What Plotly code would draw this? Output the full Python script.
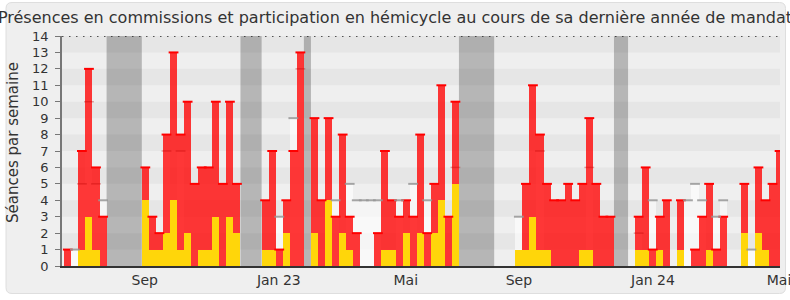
import plotly.graph_objects as go

N = None
weeks = list(range(102))

# séances en commission / présences (rouge)
presence = [1, 0, 7, 12, 6, 3, 0, 0, 0, 0, 0,
            6, 3, 2, 8, 13, 8, 10, 5, 6, 6, 10, 5, 10, 5,
            0, 0, 0,
            4, 7, 1, 4, 7, 13,
            0,
            9, 4, 9, 3, 8, 3, 2, 0, 0, 2, 7, 4, 3, 4, 3, 8, 2, 5, 11, 3, 10,
            0, 0, 0, 0, 0, 0, 0, 0,
            1, 5, 11, 8, 5, 4, 4, 5, 4, 5, 9, 5, 3, 3,
            0, 0, 0,
            3, 6, 1, 3, 4, 0, 4, 0, 1, 3, 5, 1, 3, 0, 0, 5, 0, 6, 4, 5, 7]

# participation en hémicycle (jaune)
hemicycle = [0, 0, 1, 3, 1, 0, 0, 0, 0, 0, 0,
             4, 1, 1, 2, 4, 1, 2, 0, 1, 1, 3, 0, 3, 2,
             0, 0, 0,
             1, 1, 0, 2, 0, 0,
             0,
             2, 0, 4, 0, 2, 1, 0, 0, 0, 0, 1, 1, 0, 2, 0, 2, 0, 2, 4, 0, 5,
             0, 0, 0, 0, 0, 0, 0, 0,
             1, 1, 3, 1, 1, 0, 0, 0, 0, 1, 1, 0, 0, 0,
             0, 0, 0,
             1, 1, 0, 1, 0, 0, 1, 0, 0, 0, 1, 0, 0, 0, 0, 2, 0, 2, 1, 0, 0]

# médiane des députés (gris clair)
mediane = [N, 1, 5, 10, 5, 4, N, N, N, N, N, N, N, N, 7, N, 7,
           N, N, N, N, N, N, N, N, N, N, N, N, N,
           3, N, 9, 12, N, N, N, N, 4, N, 5, 4, 4, 4, 4, N, N, 4, N, 5, N, 4,
           N, N, N, 6, N, N, N, N, N, N, N, N,
           3, N, N, 7, N, N, N, N, N, N, 6, N, N, N, N, N, N,
           2, N, 4, N, N, N, N, 4, 5, 4, N, 3, 4, N, N, N, 1, N, N, N, N]

# vacances parlementaires (semaines de début et de fin)
vacances = [(6, 10), (25, 27), (34, 34), (56, 60), (78, 79)]

tick_pos = [10.91, 29.94, 47.96, 64.0, 83.04, 100.92]
tick_txt = ["Sep", "Jan 23", "Mai", "Sep", "Jan 24", "Mai"]

FONT = "DejaVu Sans"
fig = go.Figure()

fig.add_bar(x=weeks, y=[m if m is not None else 0 for m in mediane], width=1,
            marker=dict(color="rgba(255,255,255,0.6)", line=dict(width=0)), hoverinfo="skip")
fig.add_bar(x=weeks, y=presence, width=1,
            marker=dict(color="rgba(255,0,0,0.78)", line=dict(width=0)))
fig.add_bar(x=weeks, y=hemicycle, width=1,
            marker=dict(color="#ffd60a", line=dict(width=0)))

red_top = [p if (p > 0 and p > h) else None for p, h in zip(presence, hemicycle)]
fig.add_scatter(x=weeks, y=red_top, mode="markers", hoverinfo="skip",
                marker=dict(symbol="line-ew", size=7, line=dict(color="#ff0000", width=2)))
# médiane visible au-dessus des barres rouges
med_out = [m if (m is not None and m > p) else None for m, p in zip(mediane, presence)]
fig.add_scatter(x=weeks, y=med_out, mode="markers", hoverinfo="skip",
                marker=dict(symbol="line-ew", size=7, line=dict(color="rgba(150,150,150,0.85)", width=2)))
# médiane à l'intérieur des barres rouges
med_in = [m if (m is not None and h < m < p) else None for m, p, h in zip(mediane, presence, hemicycle)]
fig.add_scatter(x=weeks, y=med_in, mode="markers", hoverinfo="skip",
                marker=dict(symbol="line-ew", size=7, line=dict(color="rgba(190,0,0,0.35)", width=1.5)))

shapes = []
# panneau arrondi
L, R, T, B = 62, 780, 36, 266
W, H = R - L, B - T
def px(x):
    return (x - L) / W
def py(y):
    return (B - y) / H
pl, pr, pt, pb, r = 6, 785.5, 2.5, 293.5, 6
path = (f"M {px(pl + r)},{py(pt)} L {px(pr - r)},{py(pt)} Q {px(pr)},{py(pt)} {px(pr)},{py(pt + r)} "
        f"L {px(pr)},{py(pb - r)} Q {px(pr)},{py(pb)} {px(pr - r)},{py(pb)} "
        f"L {px(pl + r)},{py(pb)} Q {px(pl)},{py(pb)} {px(pl)},{py(pb - r)} "
        f"L {px(pl)},{py(pt + r)} Q {px(pl)},{py(pt)} {px(pl + r)},{py(pt)} Z")
shapes.append(dict(type="path", path=path, xref="paper", yref="paper", layer="below",
                   fillcolor="#efefef", line=dict(color="#dedede", width=1)))
# bandes horizontales
for k in range(7):
    shapes.append(dict(type="rect", xref="paper", yref="y", x0=0, x1=1, y0=2 * k + 1, y1=2 * k + 2,
                       fillcolor="#e6e6e6", line=dict(width=0), layer="below"))
# vacances
for a, b in vacances:
    shapes.append(dict(type="rect", xref="x", yref="y", x0=a - 0.5, x1=b + 0.5, y0=0, y1=14,
                       fillcolor="rgba(50,50,50,0.3)", line=dict(width=0), layer="below"))
# ligne pointillée en haut
shapes.append(dict(type="line", xref="paper", yref="y", x0=0, x1=1, y0=14, y1=14,
                   line=dict(color="#222", width=1.5, dash="1.5px,5.5px"), layer="above"))

fig.update_layout(
    width=790, height=300,
    margin=dict(l=L, r=790 - R, t=T, b=300 - B, autoexpand=False),
    paper_bgcolor="white", plot_bgcolor="#fafafa",
    barmode="overlay", bargap=0, showlegend=False,
    font=dict(family=FONT, color="#333"),
    shapes=shapes,
    title=dict(text="Présences en commissions et participation en hémicycle au cours de sa dernière année de mandat",
               x=0.5, xref="container", xanchor="center", y=1 - 17 / 300, yanchor="middle",
               font=dict(family=FONT, size=16, color="#333")),
    xaxis=dict(range=[-0.826, 101.06], tickvals=tick_pos, ticktext=tick_txt, showgrid=False,
               zeroline=False, showline=True, linecolor="#333", linewidth=2, ticks="",
               ticklabeloverflow="allow", automargin=False,
               tickfont=dict(size=14, color="#333")),
    yaxis=dict(range=[0, 14], tickvals=list(range(15)), showgrid=False, zeroline=False,
               showline=True, linecolor="#777", linewidth=1.5, ticks="outside", ticklen=5,
               automargin=False,
               tickcolor="#777", tickfont=dict(size=13, color="#333"), ticklabelstandoff=4),
    annotations=[dict(text="Séances par semaine", textangle=-90, xref="paper", yref="paper",
                      x=px(13), y=py(143), xanchor="center", yanchor="middle", showarrow=False,
                      font=dict(family=FONT, size=15, color="#333"))],
)

fig.write_html("out.html")
